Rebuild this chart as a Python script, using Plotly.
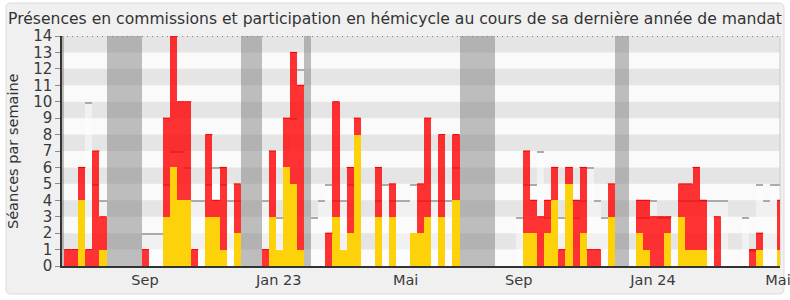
import plotly.graph_objects as go

# ---- data (weekly) ----
weeks = list(range(102))
commission = [0, 0, 4, 0, 0, 1, 0, 0, 0, 0,
              0, 0, 0, 0, 3, 6, 4, 4, 0, 0,
              3, 3, 1, 0, 2, 0, 0, 0, 0, 3,
              1, 6, 5, 1, 0, 0, 0, 0, 3, 1,
              2, 8, 0, 0, 3, 0, 3, 0, 0, 2,
              2, 3, 0, 3, 0, 4, 0, 0, 0, 0,
              0, 0, 0, 0, 0, 2, 2, 0, 2, 4,
              0, 5, 0, 2, 0, 0, 0, 3, 0, 0,
              0, 2, 1, 0, 0, 2, 0, 3, 1, 1,
              1, 0, 0, 0, 0, 0, 0, 0, 1, 0,
              0, 1]
hemicycle = [1, 1, 2, 1, 7, 2, 0, 0, 0, 0,
             0, 1, 0, 0, 6, 8, 6, 6, 1, 0,
             5, 1, 5, 0, 3, 0, 0, 0, 1, 4,
             0, 3, 8, 10, 0, 0, 0, 2, 7, 0,
             4, 1, 0, 0, 3, 0, 2, 0, 0, 0,
             3, 6, 0, 5, 0, 4, 0, 0, 0, 0,
             0, 0, 0, 0, 0, 5, 2, 3, 2, 2,
             1, 1, 4, 4, 1, 1, 0, 2, 0, 0,
             0, 2, 3, 3, 3, 1, 0, 2, 4, 5,
             3, 0, 3, 0, 0, 0, 0, 1, 1, 0,
             0, 3]
median = [0, 0, 0, 10, 5, 4, 0, 0, 0, 0,
          0, 2, 2, 2, 5, 7, 7, 6, 4, 4,
          5, 6, 5, 4, 4, 0, 0, 0, 4, 3,
          3, 6, 9, 12, 0, 3, 4, 5, 4, 4,
          5, 4, 0, 0, 4, 5, 4, 4, 4, 5,
          4, 4, 4, 4, 4, 6, 0, 0, 0, 0,
          0, 0, 0, 0, 3, 5, 5, 7, 3, 4,
          3, 4, 3, 4, 6, 4, 3, 3, 0, 0,
          0, 3, 3, 4, 3, 3, 0, 4, 4, 4,
          4, 4, 4, 4, 0, 0, 3, 1, 5, 4,
          5, 5]
vacation_weeks = [-1, 6, 7, 8, 9, 10, 25, 26, 27, 34, 56, 57, 58, 59, 60, 78, 79]
tick_weeks = [11.44, 30.38, 48.37, 64.38, 83.4, 101.1]
tick_labels = ["Sep", "Jan 23", "Mai", "Sep", "Jan 24", "Mai"]
y_ticks = list(range(0, 15))
y_max = 14

title_text = "Présences en commissions et participation en hémicycle au cours de sa dernière année de mandat"
y_title = "Séances par semaine"

# ---- styling ----
FONT = "DejaVu Sans"
FS = 14.5
W, H = 790, 300
ML, MR, MT, MB = 62, 10, 36, 34
PW, PH = W - ML - MR, H - MT - MB
CAP = 0.09

centers = [k + 0.5 for k in weeks]
totals = [c + h for c, h in zip(commission, hemicycle)]
med_vals = [m if m > 0 else None for m in median]
med_base = [m - CAP if m > 0 else None for m in median]
med_cap = [CAP if m > 0 else None for m in median]

top_x, top_y = [], []
for k, t, c in zip(weeks, totals, commission):
    if t > c:
        top_x += [k, k + 1, None]
        top_y += [t, t, None]

fig = go.Figure()
fig.add_trace(go.Bar(x=[v + 0.5 for v in vacation_weeks], y=[y_max] * len(vacation_weeks),
                     width=1, marker=dict(color="rgba(128,128,128,0.5)", line=dict(width=0)),
                     hoverinfo="skip"))
fig.add_trace(go.Bar(x=centers, y=med_vals, width=1,
                     marker=dict(color="rgba(255,255,255,0.45)", line=dict(width=0)), hoverinfo="skip"))
fig.add_trace(go.Bar(x=centers, y=med_cap, base=med_base, width=1,
                     marker=dict(color="#ababab", line=dict(width=0)), hoverinfo="skip"))
fig.add_trace(go.Bar(x=centers, y=totals, width=1,
                     marker=dict(color="rgba(255,0,0,0.8)", line=dict(width=0)), hoverinfo="skip"))
fig.add_trace(go.Bar(x=centers, y=commission, width=1,
                     marker=dict(color="rgb(254,210,10)", line=dict(width=0)), hoverinfo="skip"))
fig.add_trace(go.Scatter(x=top_x, y=top_y, mode="lines",
                         line=dict(color="rgb(240,0,0)", width=1), hoverinfo="skip"))


def pp(x, y):
    return (x - ML) / PW, (H - MB - y) / PH


def rounded_box(x0, y0, x1, y1, r):
    pts = [("M", (x0 + r, y0)), ("L", (x1 - r, y0)), ("Q", (x1, y0), (x1, y0 + r)),
           ("L", (x1, y1 - r)), ("Q", (x1, y1), (x1 - r, y1)), ("L", (x0 + r, y1)),
           ("Q", (x0, y1), (x0, y1 - r)), ("L", (x0, y0 + r)), ("Q", (x0, y0), (x0 + r, y0))]
    s = ""
    for p in pts:
        cmd = p[0]
        coords = " ".join("%.5f,%.5f" % pp(*c) for c in p[1:])
        s += cmd + " " + coords + " "
    return s + "Z"


shapes = [
    dict(type="path", xref="paper", yref="paper", path=rounded_box(6, 3, 784, 294, 5),
         fillcolor="#f0f0f0", line=dict(color="#dcdcdc", width=1), layer="below"),
    dict(type="rect", xref="paper", yref="paper", x0=0, x1=1, y0=0, y1=1,
         fillcolor="#fafafa", line=dict(width=0), layer="below"),
]
for lo in range(1, y_max, 2):
    shapes.append(dict(type="rect", xref="paper", yref="y", x0=0, x1=1, y0=lo, y1=lo + 1,
                       fillcolor="#e5e5e5", line=dict(width=0), layer="below"))
shapes.append(dict(type="line", xref="paper", yref="y", x0=0, x1=1, y0=y_max, y1=y_max,
                   line=dict(color="#222222", width=1, dash="1px,4px"), layer="below"))
shapes.append(dict(type="line", xref="paper", yref="paper", x0=1, x1=1, y0=0, y1=1,
                   line=dict(color="#c8c8c8", width=1), layer="below"))

fig.update_layout(
    width=W, height=H,
    margin=dict(l=ML, r=MR, t=MT, b=MB, pad=0, autoexpand=False),
    paper_bgcolor="white", plot_bgcolor="#fafafa",
    barmode="overlay", bargap=0, showlegend=False, hovermode=False,
    font=dict(family=FONT, size=FS, color="#3a3a3a"),
    title=dict(text=title_text, x=0.5, xref="container", xanchor="center",
               y=1 - 18.5 / H, yref="container", yanchor="middle",
               font=dict(family=FONT, size=15.6, color="#333333")),
    shapes=shapes,
    annotations=[dict(text=y_title, textangle=-90, xref="paper", yref="paper",
                      x=(13 - ML) / PW, y=0.5, xanchor="center", yanchor="middle",
                      showarrow=False, font=dict(family=FONT, size=FS, color="#333333"))],
    xaxis=dict(range=[-0.31, 101.39], tickvals=tick_weeks, ticktext=tick_labels,
               showgrid=False, zeroline=False, showline=True, linecolor="#333333", linewidth=1.5,
               ticks="", fixedrange=True, ticklabeloverflow="allow", automargin=False),
    yaxis=dict(range=[0, y_max], tickvals=y_ticks, showgrid=False, zeroline=False,
               showline=True, linecolor="#333333", linewidth=1.5, automargin=False,
               ticks="outside", ticklen=5, tickcolor="#8a8a8a", tickwidth=1, fixedrange=True,
               tickfont=dict(size=15)),
)

fig.write_html("out.html")
